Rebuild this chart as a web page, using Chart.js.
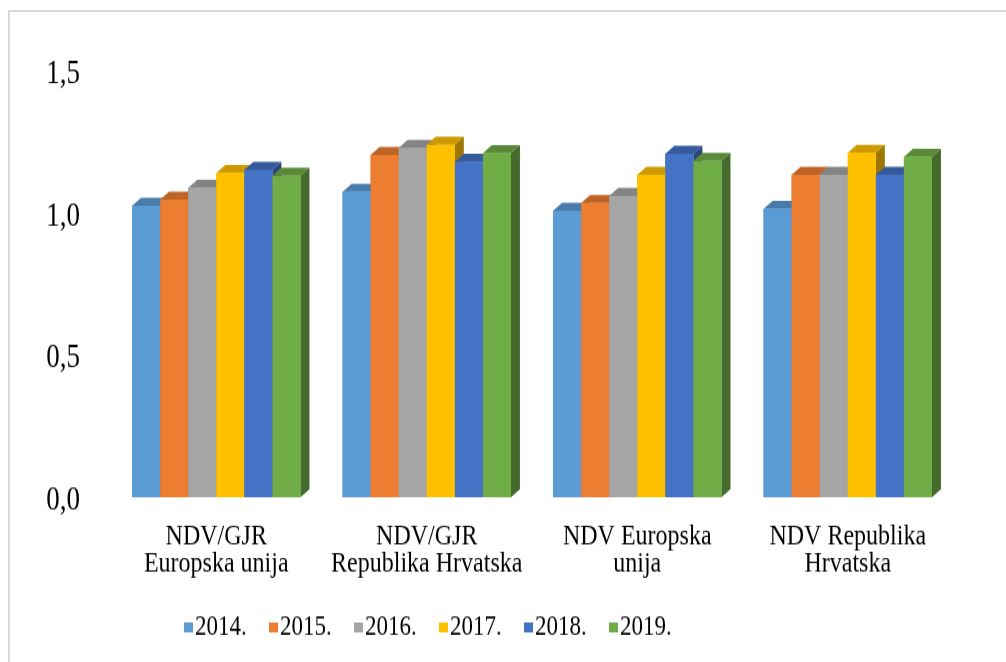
<!DOCTYPE html>
<html>
<head>
<meta charset="utf-8">
<script src="https://cdn.jsdelivr.net/npm/chart.js@4.4.0/dist/chart.umd.min.js"></script>
<style>
html, body { margin: 0; padding: 0; background: #fff; overflow: hidden; }
#frame { position: absolute; left: 8px; top: 10px; width: 1010px; height: 670px;
	border-left: 2px solid #d9d9d9; border-top: 2px solid #d9d9d9; }
#wrap { position: absolute; left: 0; top: 0; width: 1006px; height: 534px;
	transform: scaleY(1.24); transform-origin: 0 0; }
</style>
</head>
<body>
<div id="frame"></div>
<div id="wrap"><canvas id="chart" width="1006" height="534"></canvas></div>
<script>
var categories = [['NDV/GJR', 'Europska unija'], ['NDV/GJR', 'Republika Hrvatska'],
	['NDV Europska', 'unija'], ['NDV Republika', 'Hrvatska']];
var years = ['2014.', '2015.', '2016.', '2017.', '2018.', '2019.'];
var v2014 = [1.025, 1.074, 1.007, 1.014];
var v2015 = [1.046, 1.204, 1.035, 1.134];
var v2016 = [1.088, 1.229, 1.060, 1.134];
var v2017 = [1.140, 1.239, 1.134, 1.211];
var v2018 = [1.151, 1.180, 1.208, 1.134];
var v2019 = [1.130, 1.210, 1.183, 1.197];
var yTicks = [0, 0.5, 1.0, 1.5];
var colors = ['#5B9BD5', '#ED7D31', '#A5A5A5', '#FFC000', '#4472C4', '#70AD47'];

var series = [v2014, v2015, v2016, v2017, v2018, v2019];
var serif = '"Liberation Serif", "Times New Roman", serif';
var dx = 9, dy = 6.5; // depth of the fake 3d faces

function shade(hex, f) {
	var n = parseInt(hex.slice(1), 16);
	var r = Math.round(((n >> 16) & 255) * f),
		g = Math.round(((n >> 8) & 255) * f),
		b = Math.round((n & 255) * f);
	return 'rgb(' + r + ',' + g + ',' + b + ')';
}

//draws top + side faces, then the front again so bars overlap left to right
var bars3d = {
	id: 'bars3d',
	afterDatasetsDraw: function(chart) {
		var ctx = chart.ctx;
		for (var i = 0; i < categories.length; i++) {
			for (var d = 0; d < chart.data.datasets.length; d++) {
				var el = chart.getDatasetMeta(d).data[i];
				var x0 = el.x - el.width / 2, x1 = el.x + el.width / 2;
				var top = el.y, base = el.base, c = colors[d];
				ctx.save();
				ctx.fillStyle = shade(c, 0.8);
				ctx.beginPath();
				ctx.moveTo(x0, top); ctx.lineTo(x0 + dx, top - dy);
				ctx.lineTo(x1 + dx, top - dy); ctx.lineTo(x1, top);
				ctx.closePath(); ctx.fill();
				ctx.fillStyle = shade(c, 0.62);
				ctx.beginPath();
				ctx.moveTo(x1, top); ctx.lineTo(x1 + dx, top - dy);
				ctx.lineTo(x1 + dx, base - dy); ctx.lineTo(x1, base);
				ctx.closePath(); ctx.fill();
				ctx.fillStyle = c;
				ctx.fillRect(x0, top, x1 - x0, base - top);
				ctx.restore();
			}
		}
	}
};

//legend row, boxes close to the text like the original
var legendRow = {
	id: 'legendRow',
	afterDraw: function(chart) {
		var ctx = chart.ctx;
		ctx.save();
		ctx.font = '23px ' + serif;
		ctx.textBaseline = 'middle';
		var x = 184, y = 506;
		chart.data.datasets.forEach(function(ds, d) {
			ctx.fillStyle = colors[d];
			ctx.fillRect(x, y - 4, 9, 8);
			ctx.fillStyle = '#000';
			ctx.fillText(ds.label, x + 11, y);
			x += 85;
		});
		ctx.restore();
	}
};

var chart = new Chart(document.getElementById('chart'), {
	type: 'bar',
	data: {
		labels: categories,
		datasets: series.map(function(s, d) {
			return { label: years[d], data: s, backgroundColor: colors[d], borderWidth: 0 };
		})
	},
	options: {
		responsive: false,
		animation: false,
		events: [],
		layout: { padding: { left: 0, right: 53, top: 57, bottom: 0 } },
		plugins: { legend: { display: false }, tooltip: { enabled: false } },
		datasets: { bar: { barPercentage: 1, categoryPercentage: 0.8 } },
		scales: {
			x: {
				grid: { display: false, drawTicks: false },
				border: { display: false },
				ticks: { color: '#000', padding: 21, maxRotation: 0,
					font: { family: serif, size: 24, lineHeight: 0.9 } },
				afterFit: function(s) { s.height = 133; }
			},
			y: {
				min: 0, max: 1.5,
				grid: { display: false, drawTicks: false },
				border: { display: false },
				afterBuildTicks: function(s) { s.ticks = yTicks.map(function(v) { return { value: v }; }); },
				ticks: { color: '#000', padding: 31, labelOffset: 3,
					font: { family: serif, size: 27 },
					callback: function(v) { return v.toFixed(1).replace('.', ','); } },
				afterFit: function(s) { s.width = 111; }
			}
		}
	},
	plugins: [bars3d, legendRow]
});
</script>
</body>
</html>
